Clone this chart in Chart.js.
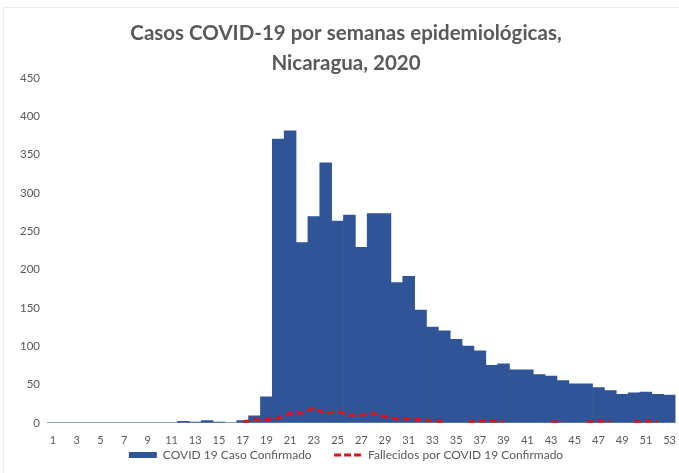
<!DOCTYPE html>
<html>
<head>
<meta charset="utf-8">
<script src="https://cdn.jsdelivr.net/npm/chart.js@4.4.0/dist/chart.umd.min.js"></script>
<style>
  html,body{margin:0;padding:0;background:#fff;}
  #wrap{position:relative;width:679px;height:473px;}
  #wrap:before{content:'';position:absolute;left:3px;top:7px;right:0;bottom:0;border-left:1px solid #ececec;border-top:1px solid #ececec;pointer-events:none;}
  canvas{display:block;}
</style>
</head>
<body>
<div id="wrap"><canvas id="c" width="679" height="473"></canvas></div>
<script>
// ===== Data =====
const weeks = Array.from({length:53}, (_,i)=>String(i+1));
const casos = [
  0,0,0,0,0,0,0,0,0,0,0,
  2,1,3,1,0,3,
  9,34,370,381,235,269,339,263,271,229,273,273,183,191,147,125,120,109,100,94,
  75,77,69,69,63,61,55,51,51,46,42,37,39,40,37,36
];
const fallecidos = [
  null,null,null,null,null,null,null,null,null,null,null,null,null,null,null,null,
  1,4,4,6,12,13,19,12,15,10,10,12,8,5,5,4,3,1,
  null,1,2,2,2,null,null,null,1,1,null,1,2,2,null,1,2,2,null
];
const yTicks = [0,50,100,150,200,250,300,350,400,450];

const gray = '#595959';
const red = '#d7141e';
const font = 'Lato, "Open Sans", sans-serif';

// legend: keep bar first, give the dashed line its dash, space the two items apart
function legendLabels(chart){
  const items = Chart.defaults.plugins.legend.labels.generateLabels(chart);
  items.sort((a,b)=>a.datasetIndex-b.datasetIndex);
  items.forEach(it=>{
    if (it.datasetIndex===0) it.text += '      ';
    if (it.datasetIndex===1){ it.lineDash=[7,3]; it.lineWidth=3; it.strokeStyle=red; }
  });
  return items;
}

new Chart(document.getElementById('c'), {
  type:'bar',
  data:{
    labels:weeks,
    datasets:[
      {label:'COVID 19 Caso Confirmado', data:casos, backgroundColor:'#2f5597',
       barPercentage:1, categoryPercentage:1, order:1, pointStyle:'rect', borderWidth:0},
      {label:'Fallecidos por COVID 19 Confirmado', type:'line', data:fallecidos,
       borderColor:red, backgroundColor:red, borderWidth:3, borderDash:[7,4],
       pointRadius:0, spanGaps:false, tension:0, order:0, pointStyle:'line'}
    ]
  },
  options:{
    responsive:false, animation:false,
    layout:{padding:{left:14, right:1, top:0, bottom:2}},
    plugins:{
      title:{display:true, text:['Casos COVID-19 por semanas epidemiológicas,','Nicaragua, 2020'],
        color:gray, font:{family:font, size:20.5, weight:'bold', lineHeight:1.46}, padding:{top:18, bottom:0}},
      legend:{position:'bottom',
        labels:{usePointStyle:true, pointStyleWidth:28, boxHeight:6, padding:4, color:gray,
          font:{family:font, size:12}, generateLabels:legendLabels}},
      tooltip:{enabled:false}
    },
    scales:{
      x:{grid:{display:false}, border:{display:true, color:'#d9d9d9'},
        afterFit:ax=>{ ax.height -= 5; },
        ticks:{color:gray, font:{family:font, size:11}, autoSkip:false, maxRotation:0, padding:3,
          callback:(v,i)=> i%2===0 ? weeks[i] : ''}},
      y:{min:0, max:450, grid:{display:false}, border:{display:false},
        afterBuildTicks:ax=>{ ax.ticks = yTicks.map(v=>({value:v})); },
        afterFit:ax=>{ ax.width = 33; },
        ticks:{color:gray, font:{family:font, size:11.5}, padding:-1}}
    }
  }
});
</script>
</body>
</html>
